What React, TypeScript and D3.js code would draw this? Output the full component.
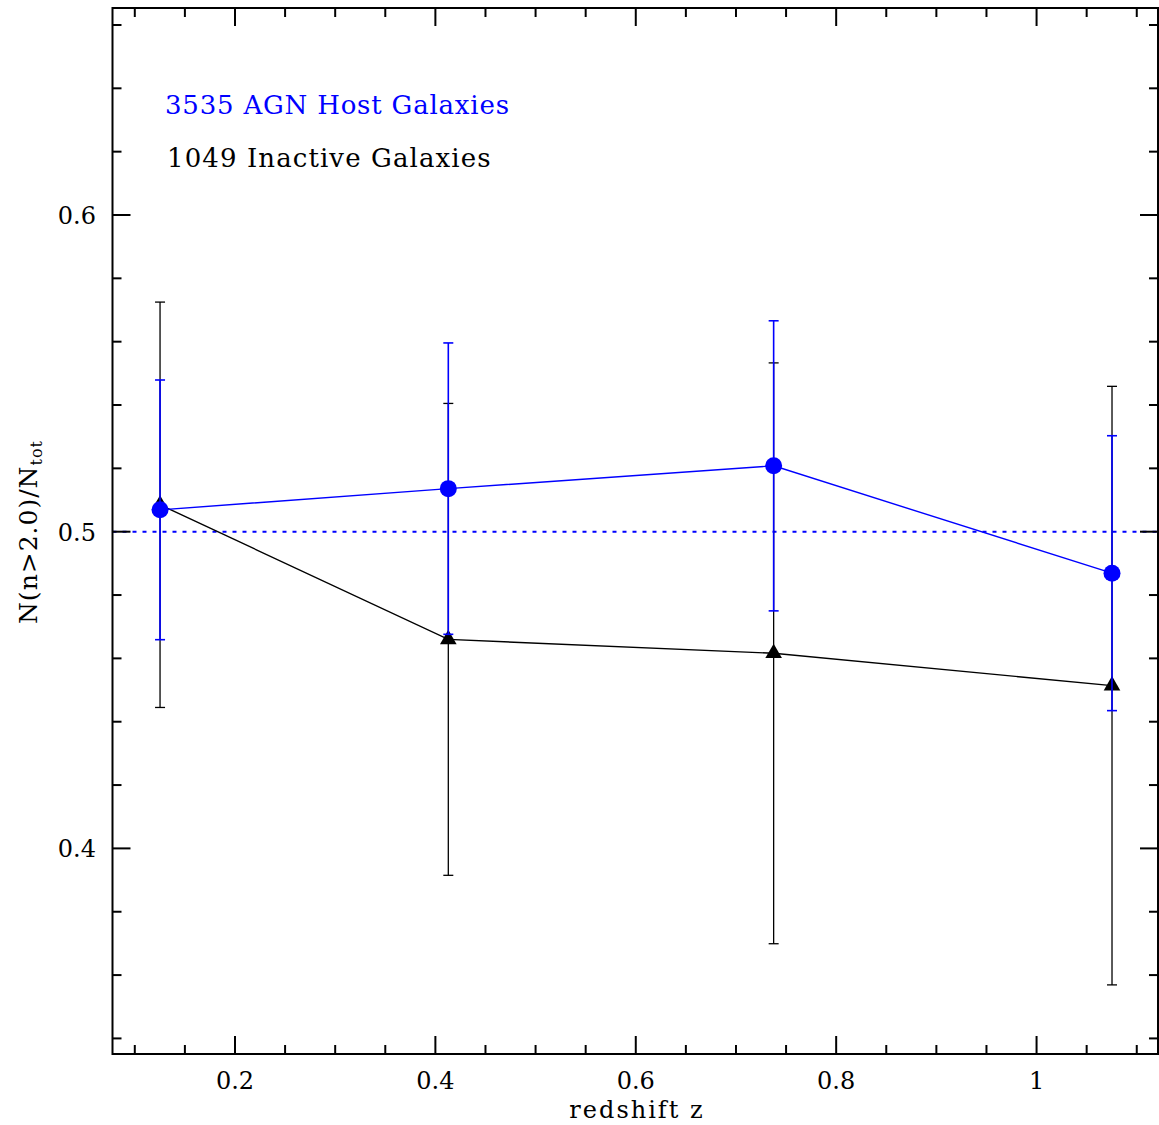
import React from "react";
import * as d3 from "d3";

// Fraction of galaxies with Sersic index n > 2.0 per redshift bin
const redshift = [0.1252, 0.4129, 0.7376, 1.0753];
const agnFrac = [0.5069, 0.5136, 0.5208, 0.4869];
const agnErr = [0.041, 0.046, 0.0458, 0.0434];
const inactiveFrac = [0.5085, 0.466, 0.4616, 0.4514];
const inactiveErr = [0.064, 0.0745, 0.0917, 0.0945];

const xMajor = [0.2, 0.4, 0.6, 0.8, 1.0];
const xMajorLabels = ["0.2", "0.4", "0.6", "0.8", "1"];
const yMajor = [0.4, 0.5, 0.6];
const yMajorLabels = ["0.4", "0.5", "0.6"];

const legendLabels = ["3535 AGN Host Galaxies", "1049 Inactive Galaxies"];

const W = 1159;
const H = 1125;
const left = 112.5;
const right = 1158;
const top = 8;
const bottom = 1054;

const BLUE = "#0000ff";
const FONT = "'DejaVu Serif', serif";

export default function App() {
  const x = d3.scaleLinear().domain([0.07775, 1.1212]).range([left, right]);
  const y = d3.scaleLinear().domain([0.33508, 0.66536]).range([bottom, top]);

  const xMinor = d3.range(0.1, 1.11, 0.05).filter(
    (v) => !xMajor.some((m) => Math.abs(m - v) < 1e-6)
  );
  const yMinor = d3.range(0.34, 0.661, 0.02).filter(
    (v) => !yMajor.some((m) => Math.abs(m - v) < 1e-6)
  );

  const line = d3
    .line<number>()
    .x((_, i) => x(redshift[i]))
    .y((d) => y(d));

  const capW = 5;
  const errBars = (vals: number[], errs: number[], color: string, sw: number) =>
    vals.map((v, i) => {
      const cx = x(redshift[i]);
      const y1 = y(v + errs[i]);
      const y2 = y(v - errs[i]);
      return (
        <g key={i} stroke={color} strokeWidth={sw}>
          <line x1={cx} x2={cx} y1={y1} y2={y2} />
          <line x1={cx - capW} x2={cx + capW} y1={y1} y2={y1} />
          <line x1={cx - capW} x2={cx + capW} y1={y2} y2={y2} />
        </g>
      );
    });

  const tri = d3.symbol(d3.symbolTriangle, 120)();

  return (
    <svg
      width={W}
      height={H}
      style={{ position: "absolute", left: 0, top: 0, background: "#fff" }}
    >
      {/* reference level */}
      <line
        x1={left}
        x2={right}
        y1={y(0.5)}
        y2={y(0.5)}
        stroke={BLUE}
        strokeWidth={2}
        strokeDasharray="4 6"
      />

      {/* inactive galaxies */}
      {errBars(inactiveFrac, inactiveErr, "#000", 1.3)}
      <path d={line(inactiveFrac) || ""} fill="none" stroke="#000" strokeWidth={1.4} />
      {inactiveFrac.map((v, i) => (
        <path
          key={i}
          d={tri || ""}
          transform={`translate(${x(redshift[i])},${y(v)})`}
          fill="#000"
        />
      ))}

      {/* AGN hosts */}
      {errBars(agnFrac, agnErr, BLUE, 1.6)}
      <path d={line(agnFrac) || ""} fill="none" stroke={BLUE} strokeWidth={1.4} />
      {agnFrac.map((v, i) => (
        <circle key={i} cx={x(redshift[i])} cy={y(v)} r={8.5} fill={BLUE} />
      ))}

      {/* frame and ticks */}
      <g stroke="#000" strokeWidth={2} fill="none">
        <rect x={left} y={top} width={right - left} height={bottom - top} />
        {xMajor.map((v) => (
          <g key={"xM" + v}>
            <line x1={x(v)} x2={x(v)} y1={bottom} y2={bottom - 18} />
            <line x1={x(v)} x2={x(v)} y1={top} y2={top + 18} />
          </g>
        ))}
        {xMinor.map((v) => (
          <g key={"xm" + v}>
            <line x1={x(v)} x2={x(v)} y1={bottom} y2={bottom - 9} />
            <line x1={x(v)} x2={x(v)} y1={top} y2={top + 9} />
          </g>
        ))}
        {yMajor.map((v) => (
          <g key={"yM" + v}>
            <line x1={left} x2={left + 18} y1={y(v)} y2={y(v)} />
            <line x1={right} x2={right - 18} y1={y(v)} y2={y(v)} />
          </g>
        ))}
        {yMinor.map((v) => (
          <g key={"ym" + v}>
            <line x1={left} x2={left + 9} y1={y(v)} y2={y(v)} />
            <line x1={right} x2={right - 9} y1={y(v)} y2={y(v)} />
          </g>
        ))}
      </g>

      {/* tick labels */}
      <g fontFamily={FONT} fontSize={24} fill="#000">
        {xMajor.map((v, i) => (
          <text key={"xl" + v} x={x(v)} y={1089} textAnchor="middle">
            {xMajorLabels[i]}
          </text>
        ))}
        {yMajor.map((v, i) => (
          <text key={"yl" + v} x={96} y={y(v) + 9} textAnchor="end">
            {yMajorLabels[i]}
          </text>
        ))}
      </g>

      {/* axis titles */}
      <text
        x={637}
        y={1118}
        textAnchor="middle"
        fontFamily={FONT}
        fontSize={24}
        letterSpacing={2}
      >
        redshift z
      </text>
      <text
        transform={`translate(37,532) rotate(-90)`}
        textAnchor="middle"
        fontFamily={FONT}
        fontSize={25}
        letterSpacing={1}
      >
        N(n&gt;2.0)/N
        <tspan fontSize={16} dy={5}>
          tot
        </tspan>
      </text>

      {/* legend */}
      <g fontFamily={FONT} fontSize={26}>
        <text x={165} y={114} fill={BLUE} letterSpacing={0.8}>
          {legendLabels[0]}
        </text>
        <text x={167} y={166.5} fill="#000" letterSpacing={1.1}>
          {legendLabels[1]}
        </text>
      </g>
    </svg>
  );
}
